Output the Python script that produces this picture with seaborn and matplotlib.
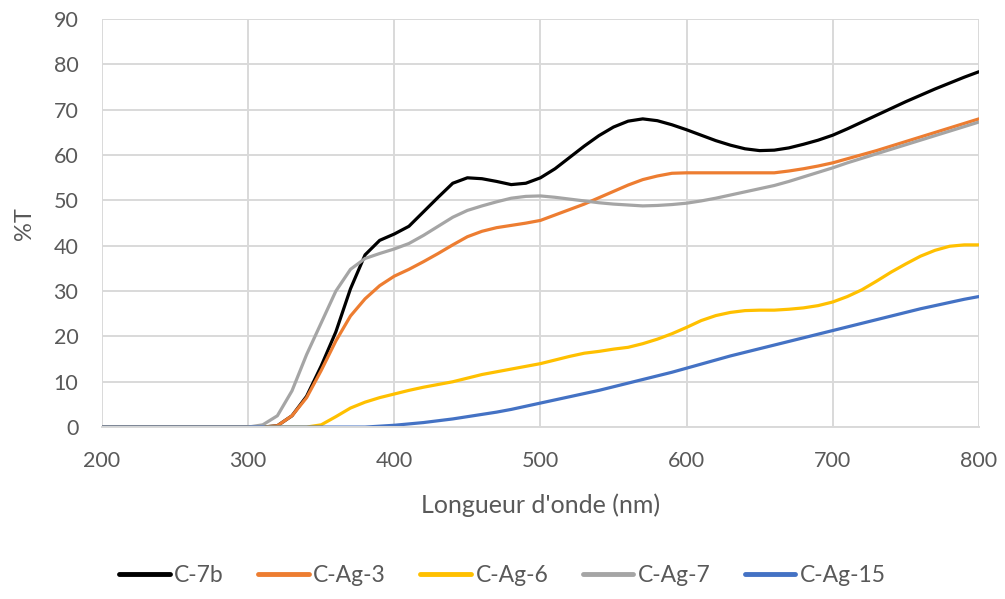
import numpy as np
import pandas as pd
import matplotlib
matplotlib.use("Agg")
import matplotlib.pyplot as plt
import seaborn as sns

# wavelength grid (nm), one reading every 10 nm
wavelength = list(range(200, 801, 10))

c_7b = [0, 0, 0, 0, 0, 0, 0, 0, 0, 0, 0, 0,
        0.3, 2.5, 6.8, 13.5, 21, 30.5, 38, 41.2, 42.6, 44.3, 47.5, 50.7,
        53.8, 55, 54.8, 54.2, 53.5, 53.8, 55, 57, 59.5, 62, 64.3, 66.2, 67.5,
        68, 67.6, 66.7, 65.6, 64.4, 63.2, 62.2, 61.4, 61, 61.1, 61.6, 62.4,
        63.3, 64.4, 65.8, 67.3, 68.8, 70.3, 71.8, 73.2, 74.6, 75.9, 77.2, 78.4]

c_ag3 = [0, 0, 0, 0, 0, 0, 0, 0, 0, 0, 0, 0,
         0.3, 2.5, 6.5, 12.5, 19, 24.5, 28.3, 31.2, 33.3, 34.8, 36.5, 38.3,
         40.2, 42, 43.2, 44, 44.5, 45, 45.6, 46.8, 48, 49.2, 50.6, 52, 53.4,
         54.6, 55.4, 56, 56.1, 56.1, 56.1, 56.1, 56.1, 56.1, 56.1, 56.5, 57,
         57.6, 58.3, 59.2, 60.1, 61, 62, 63, 64, 65, 66, 67, 68]

c_ag6 = [0, 0, 0, 0, 0, 0, 0, 0, 0, 0, 0, 0, 0, 0, 0,
         0.5, 2.3, 4.2, 5.5, 6.5, 7.3, 8.1, 8.8, 9.4, 10, 10.8, 11.6, 12.2,
         12.8, 13.4, 14, 14.8, 15.6, 16.3, 16.7, 17.2, 17.6, 18.4, 19.4, 20.6,
         22, 23.5, 24.6, 25.3, 25.7, 25.8, 25.8, 26, 26.3, 26.8, 27.6, 28.8,
         30.3, 32.2, 34.2, 36, 37.7, 39, 39.9, 40.2, 40.2]

c_ag7 = [0, 0, 0, 0, 0, 0, 0, 0, 0, 0, 0,
         0.5, 2.5, 8, 16, 23, 30, 34.8, 37.2, 38.3, 39.3, 40.5, 42.3, 44.3,
         46.3, 47.8, 48.8, 49.7, 50.5, 50.9, 51, 50.7, 50.3, 49.9, 49.5, 49.2,
         49, 48.8, 48.9, 49.1, 49.4, 49.9, 50.5, 51.2, 51.9, 52.6, 53.3, 54.2,
         55.2, 56.2, 57.2, 58.3, 59.3, 60.3, 61.3, 62.3, 63.3, 64.3, 65.3,
         66.3, 67.3]

c_ag15 = [0, 0, 0, 0, 0, 0, 0, 0, 0, 0, 0, 0, 0, 0, 0, 0, 0, 0, 0,
          0.2, 0.4, 0.7, 1, 1.4, 1.8, 2.3, 2.8, 3.3, 3.9, 4.6, 5.3, 6, 6.7,
          7.4, 8.1, 8.9, 9.7, 10.5, 11.3, 12.1, 13, 13.9, 14.8, 15.7, 16.5,
          17.3, 18.1, 18.9, 19.7, 20.5, 21.3, 22.1, 22.9, 23.7, 24.5, 25.3,
          26.1, 26.8, 27.5, 28.2, 28.8]

series = {"C-7b": c_7b, "C-Ag-3": c_ag3, "C-Ag-6": c_ag6,
          "C-Ag-7": c_ag7, "C-Ag-15": c_ag15}
colors = ["#000000", "#ED7D31", "#FFC000", "#A5A5A5", "#4472C4"]

df = pd.concat(
    [pd.DataFrame({"wl": wavelength, "T": vals, "sample": name})
     for name, vals in series.items()],
    ignore_index=True)

sns.set_style("white")
plt.rcParams["font.family"] = ["Lato", "DejaVu Sans"]

fig = plt.figure(figsize=(10.05, 5.99), dpi=100)
ax = fig.add_axes([0.1015, 0.287, 0.8725, 0.681])

sns.lineplot(data=df, x="wl", y="T", hue="sample", palette=colors,
             linewidth=2.3, ax=ax, legend=False)

ax.set_xlim(200, 800)
ax.set_ylim(0, 90)
ax.set_xticks(range(200, 801, 100))
ax.set_yticks(range(0, 91, 10))
ax.grid(True, color="#d9d9d9", linewidth=1.4)
ax.set_axisbelow(True)
for s in ["top", "right", "left"]:
    ax.spines[s].set_visible(False)
ax.spines["bottom"].set_color("#d9d9d9")
ax.spines["bottom"].set_linewidth(1.4)
ax.tick_params(axis="both", length=0, labelsize=15.5, labelcolor="#595959")
ax.tick_params(axis="x", pad=17)
ax.tick_params(axis="y", pad=17)

ax.set_xlabel("Longueur d'onde (nm)", fontsize=18, color="#595959", labelpad=16)
ax.set_ylabel("%T", fontsize=17, color="#595959", labelpad=13)

handles = [plt.Line2D([], [], color=c, linewidth=3.5) for c in colors]
fig.legend(handles, list(series.keys()), loc="lower center",
           bbox_to_anchor=(0.5, -0.012), ncol=5, frameon=False,
           fontsize=16.5, handlelength=2.2, handletextpad=0.2, columnspacing=1.5,
           labelcolor="#595959")

fig.savefig("out.png", dpi=100)
